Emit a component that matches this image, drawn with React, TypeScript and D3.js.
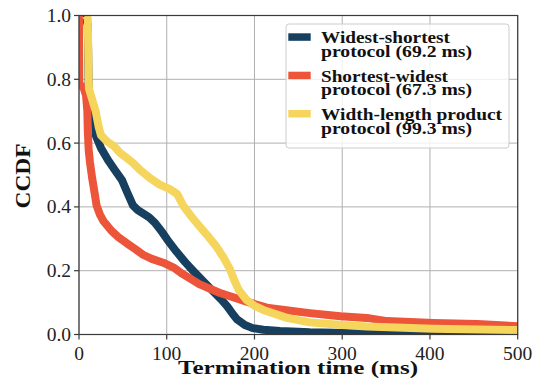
import React from "react";
import * as d3 from "d3";

const xTicks = [0, 100, 200, 300, 400, 500];
const yTicks = [0, 0.2, 0.4, 0.6, 0.8, 1.0];
const yTickLabels = ["0.0", "0.2", "0.4", "0.6", "0.8", "1.0"];

const seriesNames = [
  ["Widest-shortest", "protocol (69.2 ms)"],
  ["Shortest-widest", "protocol (67.3 ms)"],
  ["Width-length product", "protocol (99.3 ms)"],
];
const seriesColors = ["#173F5F", "#ED553B", "#F6D55C"];

const wsMs = [7, 10, 11, 14, 18, 19, 25, 33, 41, 49, 55, 61.5, 67, 72, 80, 86.6, 95, 101, 111, 121, 130, 138, 153, 162, 169, 175, 180, 189, 198, 210, 229, 263, 320, 380, 385, 500];
const wsCcdf = [1.0, 0.97, 0.77, 0.72, 0.67, 0.625, 0.585, 0.547, 0.515, 0.484, 0.445, 0.405, 0.39, 0.381, 0.367, 0.35, 0.32, 0.296, 0.26, 0.227, 0.2, 0.177, 0.135, 0.11, 0.088, 0.065, 0.048, 0.03, 0.02, 0.015, 0.011, 0.007, 0.004, 0.002, 0, 0];

const swMs = [0, 0.3, 5, 8, 9.5, 10, 11, 12.5, 15, 18, 20, 24, 28, 37, 45, 55, 64, 73, 83, 96, 109, 118, 137, 160, 191, 214, 263, 298, 328, 351, 404, 454, 500];
const swCcdf = [1.0, 0.785, 0.775, 0.75, 0.7, 0.64, 0.58, 0.54, 0.49, 0.44, 0.405, 0.375, 0.355, 0.325, 0.305, 0.285, 0.268, 0.25, 0.237, 0.225, 0.208, 0.19, 0.158, 0.131, 0.103, 0.084, 0.067, 0.057, 0.052, 0.042, 0.036, 0.033, 0.026];

const wlMs = [8, 10, 11, 11.4, 19, 22.5, 25, 32, 40, 47, 55, 61.5, 69.5, 81, 92, 104, 112, 118.5, 128, 138, 148, 157, 165, 172, 177, 182, 191, 200, 210, 237, 263, 300, 328, 403, 500];
const wlCcdf = [1.0, 0.99, 0.8, 0.77, 0.7, 0.65, 0.625, 0.605, 0.59, 0.569, 0.552, 0.538, 0.516, 0.49, 0.47, 0.455, 0.44, 0.405, 0.37, 0.337, 0.305, 0.274, 0.24, 0.205, 0.17, 0.14, 0.108, 0.09, 0.077, 0.052, 0.038, 0.03, 0.025, 0.018, 0.014];

const seriesMs = [wsMs, swMs, wlMs];
const seriesCcdf = [wsCcdf, swCcdf, wlCcdf];

const W = 534;
const H = 385;
const L = 79;
const R = 517.7;
const T = 15.5;
const B = 334.5;

const FONT = "'Liberation Serif', 'DejaVu Serif', serif";

export default function App() {
  const x = d3.scaleLinear().domain([0, 500]).range([L, R]);
  const y = d3.scaleLinear().domain([0, 1]).range([B, T]);

  const paths = seriesMs.map((ms, i) => {
    const pts: [number, number][] = ms.map((m, j) => [x(m), y(seriesCcdf[i][j])]);
    return d3.line()(pts) as string;
  });

  const spine = "#3a3a3a";
  const grid = "#b0b0b0";
  const tf = { fontFamily: FONT };

  return (
    <svg
      width={W}
      height={H}
      style={{ position: "absolute", left: 0, top: 0, background: "#fff" }}
    >
      <defs>
        <clipPath id="plotclip">
          <rect x={L} y={T} width={R - L} height={B - T} />
        </clipPath>
      </defs>
      <rect x={0} y={0} width={W} height={H} fill="#fff" />
      {xTicks.map((t) => (
        <line key={"gx" + t} x1={x(t)} x2={x(t)} y1={T} y2={B} stroke={grid} strokeWidth={1} />
      ))}
      {yTicks.map((t) => (
        <line key={"gy" + t} x1={L} x2={R} y1={y(t)} y2={y(t)} stroke={grid} strokeWidth={1} />
      ))}
      <g clipPath="url(#plotclip)">
        {paths.map((p, i) => (
          <path
            key={"s" + i}
            d={p}
            fill="none"
            stroke={seriesColors[i]}
            strokeWidth={8}
            strokeLinejoin="round"
            strokeLinecap="butt"
          />
        ))}
      </g>
      <rect x={L} y={T} width={R - L} height={B - T} fill="none" stroke={spine} strokeWidth={1.2} />
      {xTicks.map((t) => (
        <g key={"tx" + t}>
          <line x1={x(t)} x2={x(t)} y1={B} y2={B + 5} stroke={spine} strokeWidth={1.2} />
          <text x={x(t)} y={359.5} fontSize={19.5} textAnchor="middle" fill="#222" style={tf}>
            {t}
          </text>
        </g>
      ))}
      {yTicks.map((t, i) => (
        <g key={"ty" + t}>
          <line x1={L - 5} x2={L} y1={y(t)} y2={y(t)} stroke={spine} strokeWidth={1.2} />
          <text x={71} y={y(t) + 6.5} fontSize={19.5} textAnchor="end" fill="#222" style={tf}>
            {yTickLabels[i]}
          </text>
        </g>
      ))}
      <text
        x={298}
        y={374}
        fontSize={19}
        fontWeight="bold"
        textAnchor="middle"
        textLength={240}
        lengthAdjust="spacingAndGlyphs"
        fill="#111"
        style={tf}
      >
        Termination time (ms)
      </text>
      <text
        transform="translate(30,176) rotate(-90)"
        fontSize={20}
        fontWeight="bold"
        textAnchor="middle"
        textLength={65}
        lengthAdjust="spacingAndGlyphs"
        fill="#111"
        style={tf}
      >
        CCDF
      </text>
      <rect x={286} y={24} width={223} height={124} rx={3} fill="#fff" fillOpacity={0.8} stroke="#cccccc" strokeWidth={1} />
      {seriesNames.map((nm, i) => {
        const base = [43.3, 81.7, 120][i];
        const w1 = [129, 127, 181][i];
        return (
          <g key={"lg" + i}>
            <rect x={288.3} y={base - 10} width={22.4} height={7.5} fill={seriesColors[i]} />
            <text x={321} y={base} fontSize={16} fontWeight="bold" textLength={w1} lengthAdjust="spacingAndGlyphs" fill="#111" style={tf}>
              {nm[0]}
            </text>
            <text x={321} y={base + 13.5} fontSize={16} fontWeight="bold" textLength={151} lengthAdjust="spacingAndGlyphs" fill="#111" style={tf}>
              {nm[1]}
            </text>
          </g>
        );
      })}
    </svg>
  );
}
